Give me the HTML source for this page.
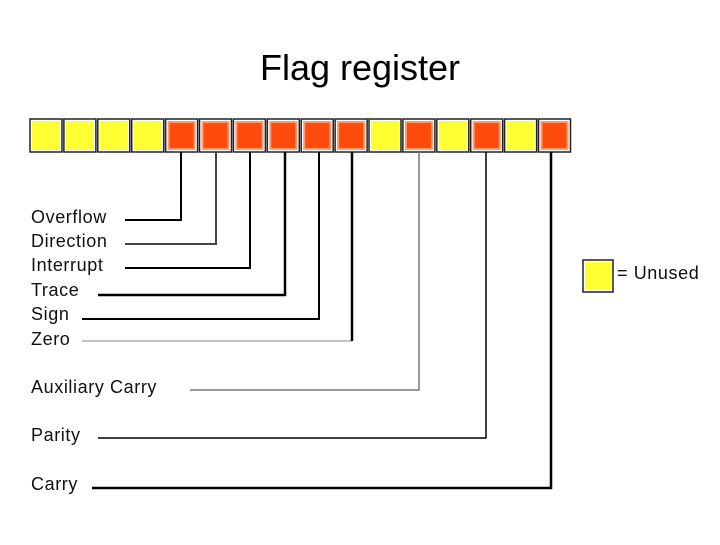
<!DOCTYPE html>
<html><head><style>
body{margin:0;width:720px;height:540px;background:#fff;overflow:hidden}
</style></head><body>
<svg width="720" height="540" xmlns="http://www.w3.org/2000/svg" font-family="Liberation Sans, sans-serif">
<defs>
<g id="Y"><rect x="1" y="119" width="32" height="33" fill="#fff" stroke="#222" stroke-width="1.5"/><rect x="3" y="121" width="28" height="29" fill="#ffff33"/></g>
<g id="O"><rect x="1" y="119" width="32" height="33" fill="#fff" stroke="#222" stroke-width="1.5"/><rect x="3" y="121" width="28" height="29" fill="#ff9a70"/><rect x="5" y="123" width="24" height="25" fill="#ff4c0c"/></g>
</defs>
<text x="360" y="80" font-size="36" text-anchor="middle" fill="#000">Flag register</text>
<use href="#Y" x="29"/>
<use href="#Y" x="62.9"/>
<use href="#Y" x="96.8"/>
<use href="#Y" x="130.7"/>
<use href="#O" x="164.6"/>
<use href="#O" x="198.5"/>
<use href="#O" x="232.4"/>
<use href="#O" x="266.3"/>
<use href="#O" x="300.2"/>
<use href="#O" x="334.1"/>
<use href="#Y" x="368"/>
<use href="#O" x="401.9"/>
<use href="#Y" x="435.8"/>
<use href="#O" x="469.7"/>
<use href="#Y" x="503.6"/>
<use href="#O" x="537.5"/>
<g stroke="#000" stroke-width="2" fill="none">
<polyline points="125,220 181,220 181,152"/>
<polyline points="125,244 216,244 216,152" stroke="#444"/>
<polyline points="125,268 250,268 250,152"/>
<polyline points="98,295 285,295 285,152" stroke-width="2.5"/>
<polyline points="82,319 319,319 319,152"/>
<polyline points="82,341 352,341" stroke="#888" stroke-width="1"/>
<polyline points="352,341 352,152" stroke-width="2.5"/>
<polyline points="190,390 419,390 419,152" stroke="#777" stroke-width="1.5"/>
<polyline points="98,438 486,438 486,152" stroke-width="1.5"/>
<polyline points="92,488 551,488 551,152" stroke-width="2.5"/>
</g>
<g font-size="18" fill="#111" letter-spacing="0.6">
<text x="31" y="223">Overflow</text>
<text x="31" y="247">Direction</text>
<text x="31" y="271">Interrupt</text>
<text x="31" y="296">Trace</text>
<text x="31" y="320">Sign</text>
<text x="31" y="345">Zero</text>
<text x="31" y="393">Auxiliary Carry</text>
<text x="31" y="441">Parity</text>
<text x="31" y="490">Carry</text>
<text x="617" y="279">= Unused</text>
</g>
<rect x="583" y="260" width="30" height="32" fill="#fff" stroke="#222" stroke-width="1.5"/>
<rect x="585" y="262" width="26" height="28" fill="#ffff33"/>
</svg>
</body></html>
